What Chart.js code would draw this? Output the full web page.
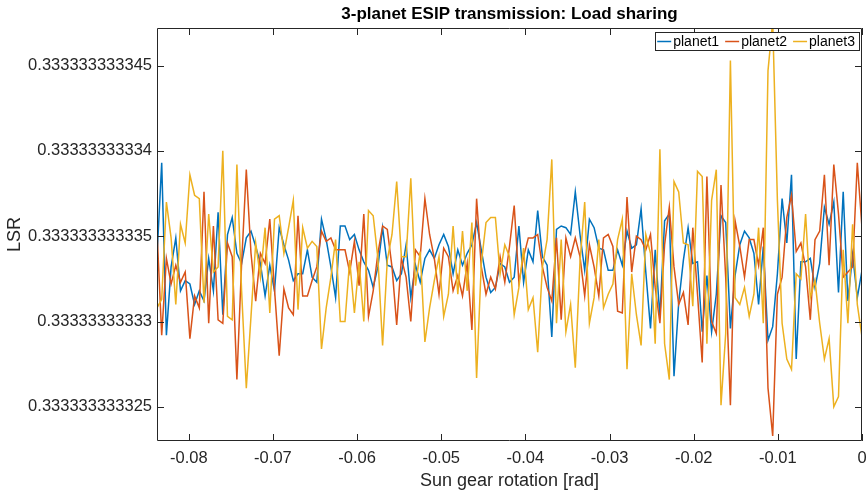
<!DOCTYPE html>
<html>
<head>
<meta charset="utf-8">
<script src="https://cdn.jsdelivr.net/npm/chart.js@4.4.1/dist/chart.umd.min.js"></script>
<style>
  body { margin: 0; background: #fff; }
  #wrap { width: 868px; height: 492px; }
</style>
</head>
<body>
<div id="wrap"><canvas id="lsrChart" width="868" height="492"></canvas></div>
<script>
// LSR values are stored as offsets from 0.33333333333, in units of 1e-12
const seriesNames = ['planet1', 'planet2', 'planet3'];
const seriesColors = ['#0072BD', '#D95319', '#EDB120'];

// sun gear rotation: 151 samples from -2*pi/75 to 0
const xStart = -0.083776;
const xEnd = 0;
const sampleCount = 151;

const planet1 = [3.8,9.3,-0.8,3.2,4.9,1.8,2.4,2.2,1.0,1.8,
  1.2,3.7,1.8,6.4,0.4,5.1,6.1,4.0,3.4,4.9,
  5.3,4.4,3.4,1.5,3.3,1.8,5.5,4.5,3.6,2.4,
  2.8,2.8,4.2,2.6,2.3,6.0,4.8,3.2,1.4,5.6,
  5.6,4.8,5.1,4.2,3.5,3.0,2.0,3.2,5.5,3.3,
  3.2,2.4,2.8,4.5,1.4,3.3,2.3,3.7,4.2,3.7,
  4.5,5.1,4.4,2.8,4.2,3.3,4.0,4.5,5.8,4.2,
  2.6,1.7,2.0,3.4,3.2,2.3,2.6,5.6,2.3,4.2,
  3.5,6.5,3.8,3.3,-0.9,5.4,5.6,5.5,5.1,7.6,
  5.1,3.0,6.0,5.5,4.3,4.2,3.0,3.0,4.2,3.3,
  5.3,4.3,4.5,6.6,2.9,-0.4,4.2,0.3,5.9,6.3,
  -3.2,1.1,3.6,5.5,3.4,3.5,-0.6,2.7,-0.6,1.6,
  6.2,5.8,-0.4,2.7,4.5,5.3,4.9,4.0,1.0,4.4,
  -1.1,-0.3,2.8,7.2,4.6,8.6,-2.2,3.5,3.5,3.7,
  2.0,3.4,6.7,5.7,7.0,1.7,7.6,1.2,3.9,1.4,
  3.0];

const planet2 = [5.3,-0.8,3.7,2.2,3.3,2.3,2.9,-1.0,1.5,0.8,
  7.6,-0.1,5.6,0.1,-0.1,4.6,3.8,-3.4,3.4,8.9,
  4.0,1.2,4.0,3.4,6.0,1.9,-2.0,1.9,0.8,0.4,
  6.2,1.5,1.5,2.4,3.2,5.3,4.7,4.9,4.2,4.2,
  4.2,2.9,4.7,2.1,6.3,0.3,1.8,4.0,5.6,5.4,
  3.2,-0.2,3.7,2.6,0.0,4.2,3.8,7.2,5.1,3.7,
  1.6,4.3,3.8,1.8,2.7,1.5,3.4,-0.5,7.2,3.2,
  1.6,2.6,1.9,3.8,2.3,4.4,6.8,2.3,3.8,4.9,
  4.9,5.1,3.2,2.0,1.2,4.9,0.1,4.9,3.8,4.9,
  3.8,1.5,4.5,3.2,1.5,4.9,5.1,4.4,0.6,0.5,
  7.3,2.9,5.0,4.8,4.2,5.1,2.0,-0.1,4.5,6.7,
  3.2,1.0,1.7,-0.2,5.5,1.6,-2.4,8.5,0.0,-0.7,
  8.0,2.6,-4.9,5.9,4.4,2.6,4.8,4.8,3.3,5.5,
  -3.9,-6.7,1.6,2.6,6.1,7.4,4.1,4.6,3.2,0.1,
  4.8,5.3,8.6,3.3,9.2,6.3,2.6,2.9,3.2,9.3,
  5.5];

const planet3 = [0.8,1.3,7.0,4.9,1.0,5.7,4.6,8.6,7.4,7.2,
  1.1,6.3,2.9,3.2,10.0,0.3,0.1,9.2,1.8,-3.9,
  0.3,4.6,2.6,5.5,0.5,6.0,6.2,4.0,5.5,7.1,
  0.7,5.5,4.3,4.7,4.4,-1.6,0.8,2.6,4.8,0.0,
  0.0,3.6,0.5,3.5,0.0,6.5,6.2,3.7,-1.4,3.6,
  5.1,8.2,3.8,3.8,8.4,2.1,4.1,-1.2,0.8,2.4,
  3.8,0.3,1.6,5.6,1.6,5.3,1.8,5.8,-3.3,3.4,
  5.8,6.1,6.1,2.8,4.5,3.8,0.4,2.0,4.3,0.7,
  1.4,-1.8,3.2,4.8,9.5,-0.1,4.8,-0.6,1.0,-2.7,
  3.5,7.0,-0.1,1.4,4.8,0.8,1.6,2.2,4.8,6.0,
  -2.8,2.8,0.4,-1.4,5.1,4.0,-1.3,10.1,-1.3,-3.4,
  8.2,7.6,4.6,4.5,0.9,8.8,8.5,-1.3,7.1,8.9,
  -4.9,-0.7,15.3,1.4,1.0,2.0,0.3,1.6,5.5,-0.1,
  14.7,17.6,7.1,-0.1,-2.2,-2.8,2.8,2.5,6.3,1.4,
  2.4,-0.1,-2.2,-1.0,-5.0,-4.4,4.2,-0.1,5.7,1.0,
  -0.9];

const xTickValues = [-0.08, -0.07, -0.06, -0.05, -0.04, -0.03, -0.02, -0.01, 0];
const xTickLabels = ['-0.08', '-0.07', '-0.06', '-0.05', '-0.04', '-0.03', '-0.02', '-0.01', '0'];
const yTickValues = [-5, 0, 5, 10, 15];
const yTickLabels = ['0.333333333325', '0.33333333333', '0.333333333335', '0.33333333334', '0.333333333345'];
const yMin = -7.0;
const yMax = 17.2;

const titleText = '3-planet ESIP transmission: Load sharing';
const xTitle = 'Sun gear rotation [rad]';
const yTitle = 'LSR';

const FONT = "'Liberation Sans', Arial, Helvetica, sans-serif";
const AXIS_COLOR = '#262626';

function toPoints(values) {
  const step = (xEnd - xStart) / (sampleCount - 1);
  return values.map((v, i) => ({ x: xStart + i * step, y: v }));
}

const allSeries = [planet1, planet2, planet3];

const matlabAxes = {
  id: 'matlabAxes',
  afterDatasetsDraw(chart) {
    const { ctx, chartArea: a, scales } = chart;
    const tick = 7;
    ctx.save();
    ctx.strokeStyle = AXIS_COLOR;
    ctx.lineWidth = 1;
    ctx.beginPath();
    ctx.rect(a.left + 0.5, a.top + 0.5, a.right - a.left - 1, a.bottom - a.top - 1);
    xTickValues.forEach(v => {
      const px = Math.round(scales.x.getPixelForValue(v)) + 0.5;
      ctx.moveTo(px, a.bottom); ctx.lineTo(px, a.bottom - tick);
      ctx.moveTo(px, a.top); ctx.lineTo(px, a.top + tick);
    });
    yTickValues.forEach(v => {
      const py = Math.round(scales.y.getPixelForValue(v)) + 0.5;
      ctx.moveTo(a.left, py); ctx.lineTo(a.left + tick, py);
      ctx.moveTo(a.right, py); ctx.lineTo(a.right - tick, py);
    });
    ctx.stroke();

    // legend box inside the top right corner
    ctx.font = '14px ' + FONT;
    const lineLen = 14, gap = 2, sep = 6;
    let width = 2;
    const widths = seriesNames.map(n => ctx.measureText(n).width);
    widths.forEach((w, i) => { width += lineLen + gap + w + (i < widths.length - 1 ? sep : 4); });
    const boxRight = a.right - 3, boxTop = a.top + 4, boxH = 18;
    const boxLeft = boxRight - width;
    ctx.fillStyle = '#fff';
    ctx.fillRect(boxLeft, boxTop, width, boxH);
    ctx.strokeStyle = AXIS_COLOR;
    ctx.strokeRect(Math.round(boxLeft) + 0.5, boxTop + 0.5, Math.round(width), boxH);
    let x = boxLeft + 2;
    const cy = boxTop + boxH / 2 + 0.5;
    seriesNames.forEach((n, i) => {
      ctx.strokeStyle = seriesColors[i];
      ctx.lineWidth = 1.5;
      ctx.beginPath();
      ctx.moveTo(x, cy); ctx.lineTo(x + lineLen, cy);
      ctx.stroke();
      x += lineLen + gap;
      ctx.fillStyle = '#000';
      ctx.textBaseline = 'middle';
      ctx.textAlign = 'left';
      ctx.fillText(n, x, cy + 0.5);
      x += widths[i] + sep;
    });

    // titles
    ctx.fillStyle = '#000';
    ctx.textAlign = 'center';
    ctx.textBaseline = 'middle';
    ctx.font = 'bold 17px ' + FONT;
    ctx.fillText(titleText, (a.left + a.right) / 2, 14);
    ctx.fillStyle = AXIS_COLOR;
    ctx.font = '18px ' + FONT;
    ctx.fillText(xTitle, (a.left + a.right) / 2, 481);
    ctx.save();
    ctx.translate(15, (a.top + a.bottom) / 2);
    ctx.rotate(-Math.PI / 2);
    ctx.fillText(yTitle, 0, 0);
    ctx.restore();
    ctx.restore();
  }
};

const ctx = document.getElementById('lsrChart').getContext('2d');
new Chart(ctx, {
  type: 'line',
  data: {
    datasets: allSeries.map((vals, i) => ({
      label: seriesNames[i],
      data: toPoints(vals),
      borderColor: seriesColors[i],
      backgroundColor: seriesColors[i],
      borderWidth: 1.5,
      pointRadius: 0,
      tension: 0,
      fill: false,
      order: allSeries.length - i
    }))
  },
  options: {
    responsive: false,
    animation: false,
    layout: { padding: { top: 28, right: 6, left: 0, bottom: 0 } },
    plugins: { legend: { display: false }, title: { display: false }, tooltip: { enabled: false } },
    scales: {
      x: {
        type: 'linear',
        min: xStart,
        max: xEnd,
        grid: { display: false, drawTicks: false },
        border: { display: false },
        afterBuildTicks: scale => { scale.ticks = xTickValues.map(v => ({ value: v })); },
        afterFit: scale => { scale.height = 51; scale.paddingLeft = 0; scale.paddingRight = 0; },
        ticks: {
          autoSkip: false, maxRotation: 0, padding: 8,
          color: AXIS_COLOR, font: { family: FONT, size: 16.5 },
          callback: (v, i) => xTickLabels[i]
        }
      },
      y: {
        type: 'linear',
        min: yMin,
        max: yMax,
        grid: { display: false, drawTicks: false },
        border: { display: false },
        afterBuildTicks: scale => { scale.ticks = yTickValues.map(v => ({ value: v })); },
        afterFit: scale => { scale.width = 157; scale.paddingTop = 0; scale.paddingBottom = 0; },
        ticks: {
          autoSkip: false, padding: 5,
          color: AXIS_COLOR, font: { family: FONT, size: 16.5 },
          callback: (v, i) => yTickLabels[i]
        }
      }
    }
  },
  plugins: [matlabAxes]
});
</script>
</body>
</html>
